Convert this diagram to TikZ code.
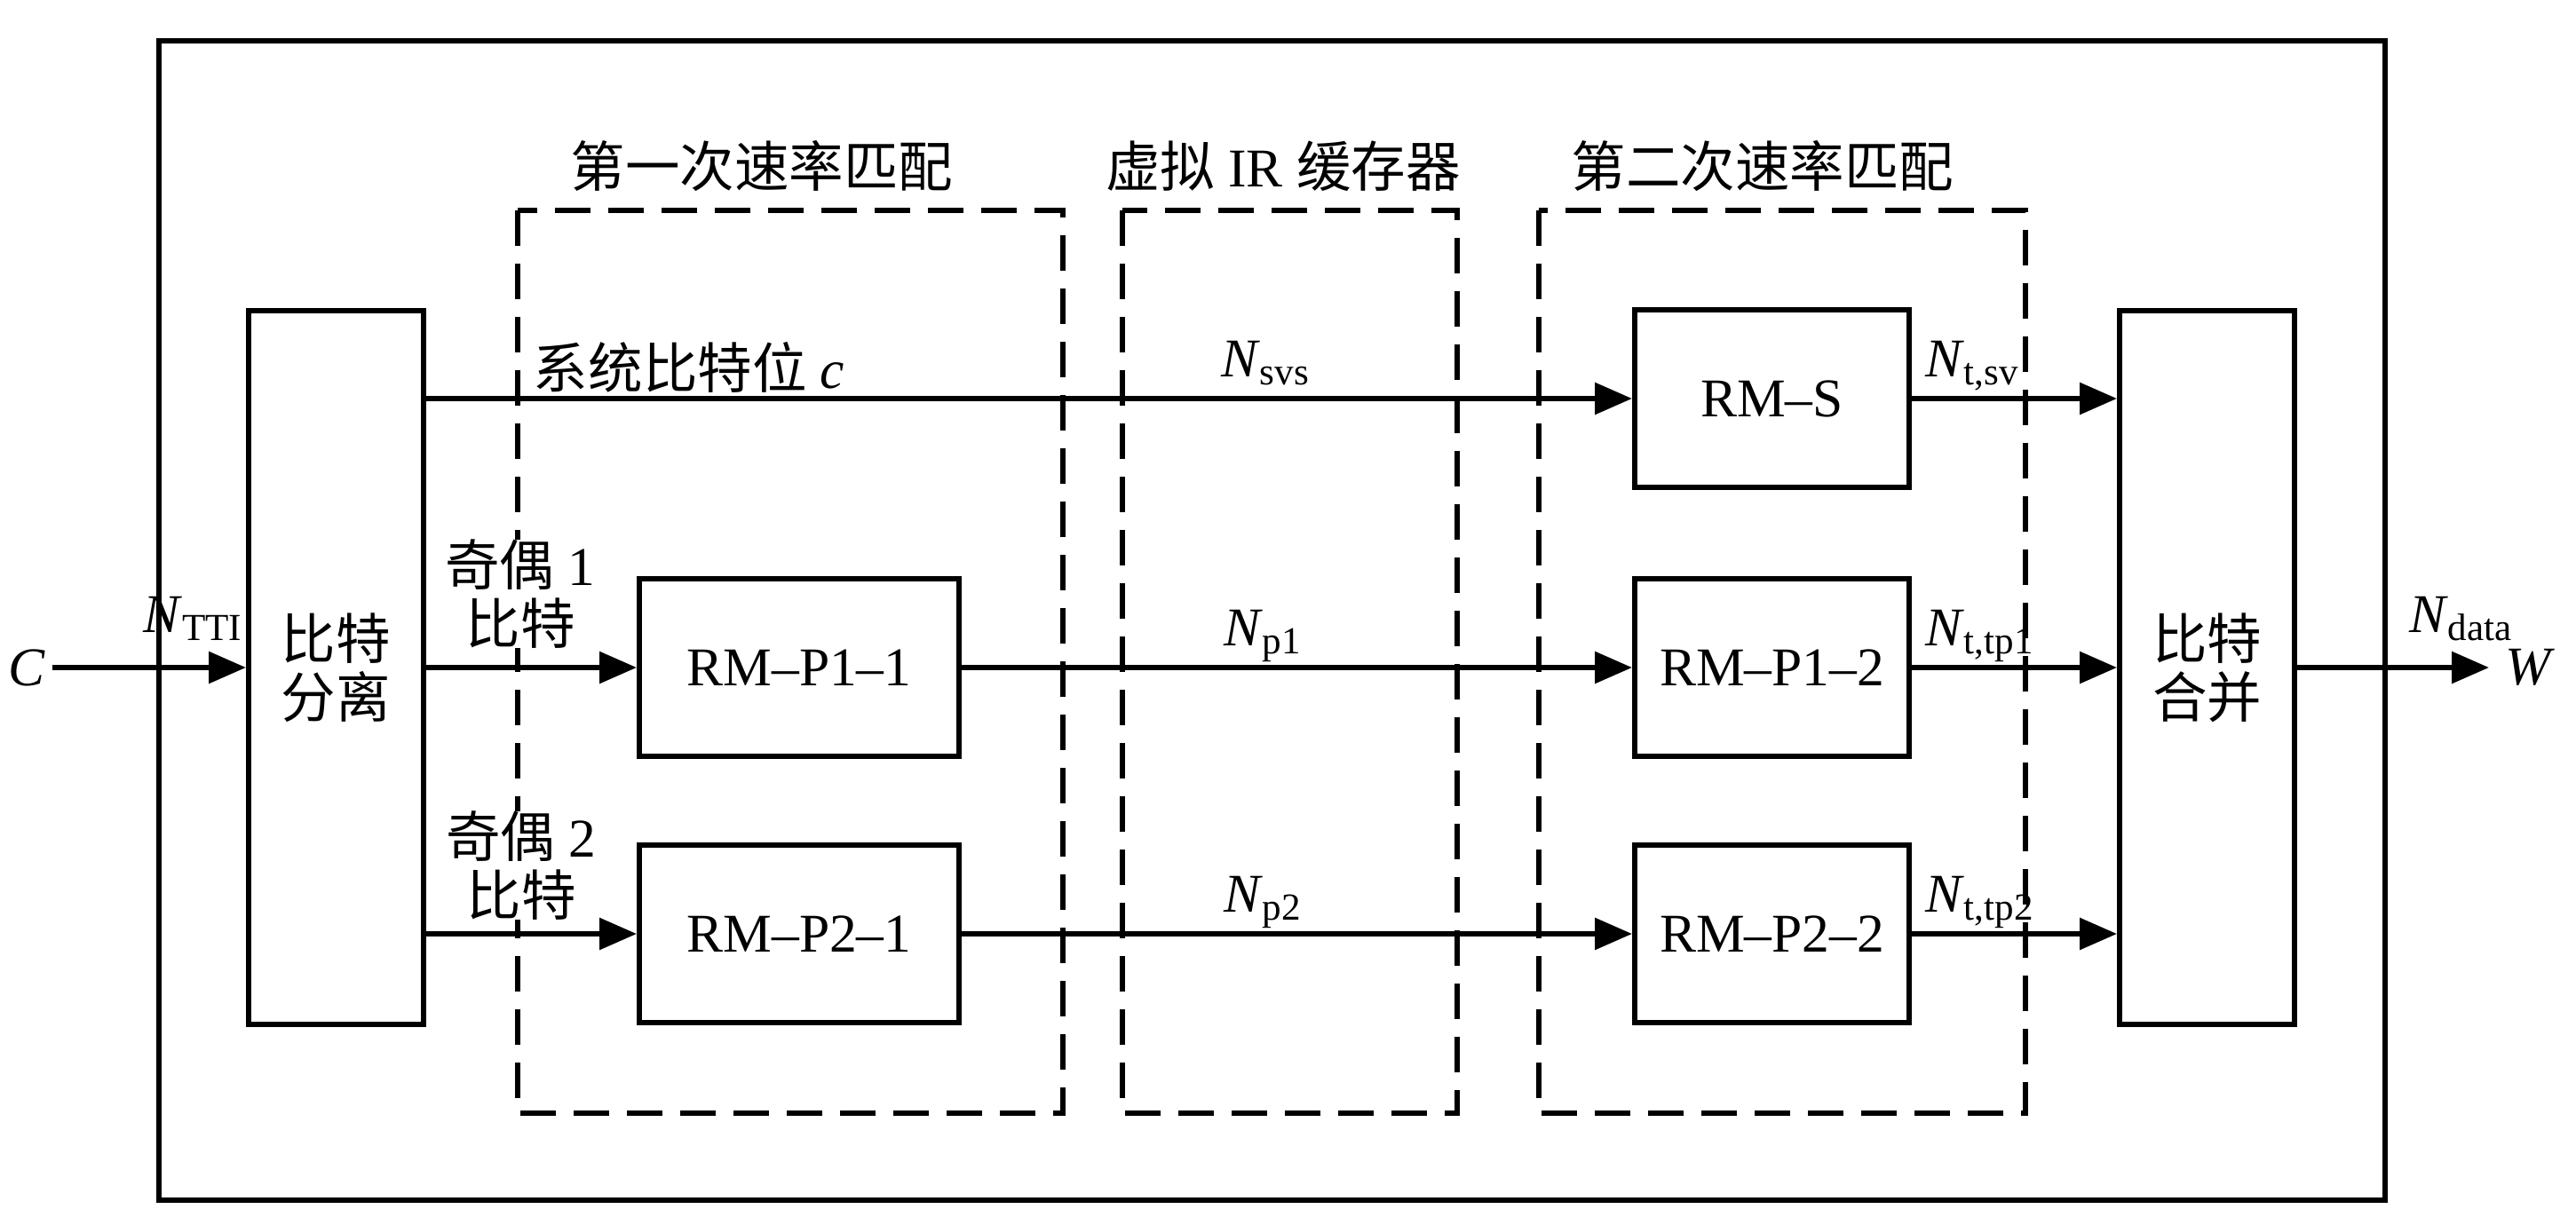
\documentclass[tikz,border=0pt]{standalone}
\usepackage{fontspec}
\setmainfont{Liberation Serif}
\newfontfamily\cjk{Noto Sans CJK SC}
\usetikzlibrary{arrows.meta, positioning}
\newcommand{\zh}[1]{{\cjk #1}}
\newcommand{\nsub}[2]{\textit{#1}\textsubscript{#2}}
\tikzset{
arr/.style={-{Triangle[length=4.2mm,width=3.5mm]}}, % filled arrow heads
block/.style={draw, minimum width=3.09cm, minimum height=2cm, inner sep=0pt},
tall/.style={draw, minimum width=1.97cm, minimum height=8.04cm, inner sep=0pt, align=center, font=\fontsize{17.5}{18.7}\selectfont\cjk},
group/.style={line width=1.6pt, dash pattern=on 4mm off 2mm}, % dashed frames
lbl/.style={inner sep=0pt},
}

\begin{document}
\begin{tikzpicture}[line width=1.7pt, every node/.style={font=\fontsize{17.5}{18.7}\selectfont}]
    \useasboundingbox (0,0) rectangle (29.01,-13.80);
    \draw (1.79,-0.46) rectangle (26.86,-13.52);

    % the three stages
    \draw[group] (5.83,-2.37) rectangle (11.97,-12.54);
    \draw[group] (12.64,-2.37) rectangle (16.41,-12.54);
    \draw[group] (17.33,-2.37) rectangle (22.81,-12.54);
    \node[lbl] (t1) at (8.58,-1.87) {\zh{第一次速率匹配}};
    \node[lbl] (t2) at (14.45,-1.87) {\zh{虚拟} IR \zh{缓存器}};
    \node[lbl] (t3) at (19.85,-1.87) {\zh{第二次速率匹配}};

    \node[tall] (split) at (3.785,-7.52) {比特\\分离};
    \node[tall] (merge) at (24.855,-7.52) {比特\\合并};

    \node[block, minimum width=3.6cm] (p11) at (9.00,-7.52) {RM–P1–1};
    \node[block, minimum width=3.6cm] (p21) at (9.00,-10.52) {RM–P2–1};
    \node[block] (s) at (19.955,-4.49) {RM–S};
    \node[block] (p12) at (19.955,-7.52) {RM–P1–2};
    \node[block] (p22) at (19.955,-10.52) {RM–P2–2};

    \node[anchor=east, inner sep=0.5mm] (C) at (0.59,-7.52) {\textit{C}};
    \node[anchor=west, inner sep=1.5mm] (W) at (28.03,-7.52) {\textit{W}};

    \draw[arr] (C) -- (split);
    \draw[arr] (split.east |- s) -- (s);
    \draw[arr] (split.east |- p11) -- (p11);
    \draw[arr] (split.east |- p21) -- (p21);
    \draw[arr] (p11) -- (p12);
    \draw[arr] (p21) -- (p22);
    \draw[arr] (s) -- (merge.west |- s);
    \draw[arr] (p12) -- (merge.west |- p12);
    \draw[arr] (p22) -- (merge.west |- p22);
    \draw[arr] (merge) -- (W);

    % labels on the lines
    \node[lbl, anchor=base east] at (2.77,-7.12) {\nsub{N}{TTI}};
    \node[lbl, anchor=base west] at (27.10,-7.12) {\nsub{N}{data}};
    \node[lbl, anchor=base west] at (5.98,-4.37) {\zh{系统比特位} \textit{c}};
    \node[lbl, align=center, fill=white] at (5.86,-6.69) {\zh{奇偶} 1\\\zh{比特}};
    \node[lbl, align=center, fill=white] at (5.87,-9.75) {\zh{奇偶} 2\\\zh{比特}};
    \node[lbl, anchor=base west] at (13.72,-4.24) {\nsub{N}{svs}};
    \node[lbl, anchor=base west] at (13.75,-7.27) {\nsub{N}{p1}};
    \node[lbl, anchor=base west] at (13.75,-10.27) {\nsub{N}{p2}};
    \node[lbl, anchor=base west] at (21.65,-4.24) {\nsub{N}{t,sv}};
    \node[lbl, anchor=base west] at (21.65,-7.27) {\nsub{N}{t,tp1}};
    \node[lbl, anchor=base west] at (21.65,-10.27) {\nsub{N}{t,tp2}};

  \end{tikzpicture}
\end{document}
